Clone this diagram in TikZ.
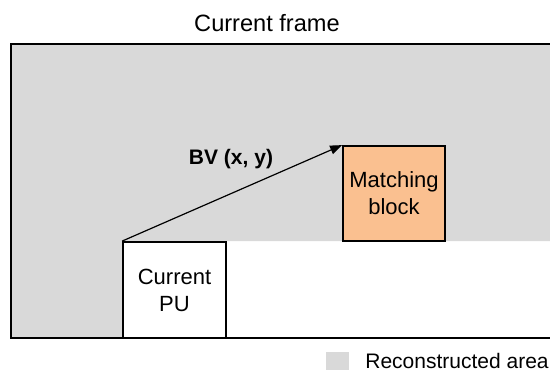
\documentclass[tikz,border=0pt]{standalone}
\usepackage{fontspec}
\setmainfont{Liberation Sans}
\usetikzlibrary{positioning, arrows.meta}
\definecolor{recgray}{RGB}{217,217,217}
\definecolor{matchorange}{RGB}{250,192,144}

\begin{document}
\begin{tikzpicture}[
x=0.5pt, y=-0.5pt,
blocknode/.style={rectangle, draw=black, line width=0.9pt, minimum width=51.5pt, minimum height=48pt, inner sep=0pt, align=center, font=\fontsize{11}{13.5}\selectfont},
textnode/.style={inner sep=0pt, font=\fontsize{10.5}{12.5}\selectfont},
bvarrow/.style={line width=0.6pt, -{Triangle[length=6pt, width=4.5pt]}}
]
\useasboundingbox (0,0) rectangle (550,371);

%Reconstructed area and frame border
\fill[recgray] (11,44) -- (560,44) -- (560,241) -- (123,241) -- (123,338) -- (11,338) -- cycle;
\draw[line width=1pt] (560,44) -- (11,44) -- (11,338) -- (560,338);

%Nodes
\node[textnode, font=\fontsize{11.8}{14}\selectfont] (title) at (267,23) {Current frame};
\node[blocknode, fill=white] (pu) at (174.5,290) {Current\\PU};
\node[blocknode, fill=matchorange, minimum width=51pt, minimum height=47.5pt] (match) at (394,193.5) {Matching\\block};
\node[textnode, font=\bfseries\fontsize{10.5}{12.5}\selectfont] (bv) at (231,159) {BV (x, y)};

%Block vector
\draw[bvarrow] (pu.north west) -- (match.north west);

%Legend
\node[fill=recgray, minimum width=11.5pt, minimum height=9pt, inner sep=0pt] (legbox) at (337.5,361) {};
\node[textnode, anchor=west] (legtext) at (365,361) {Reconstructed area};
\end{tikzpicture}
\end{document}
